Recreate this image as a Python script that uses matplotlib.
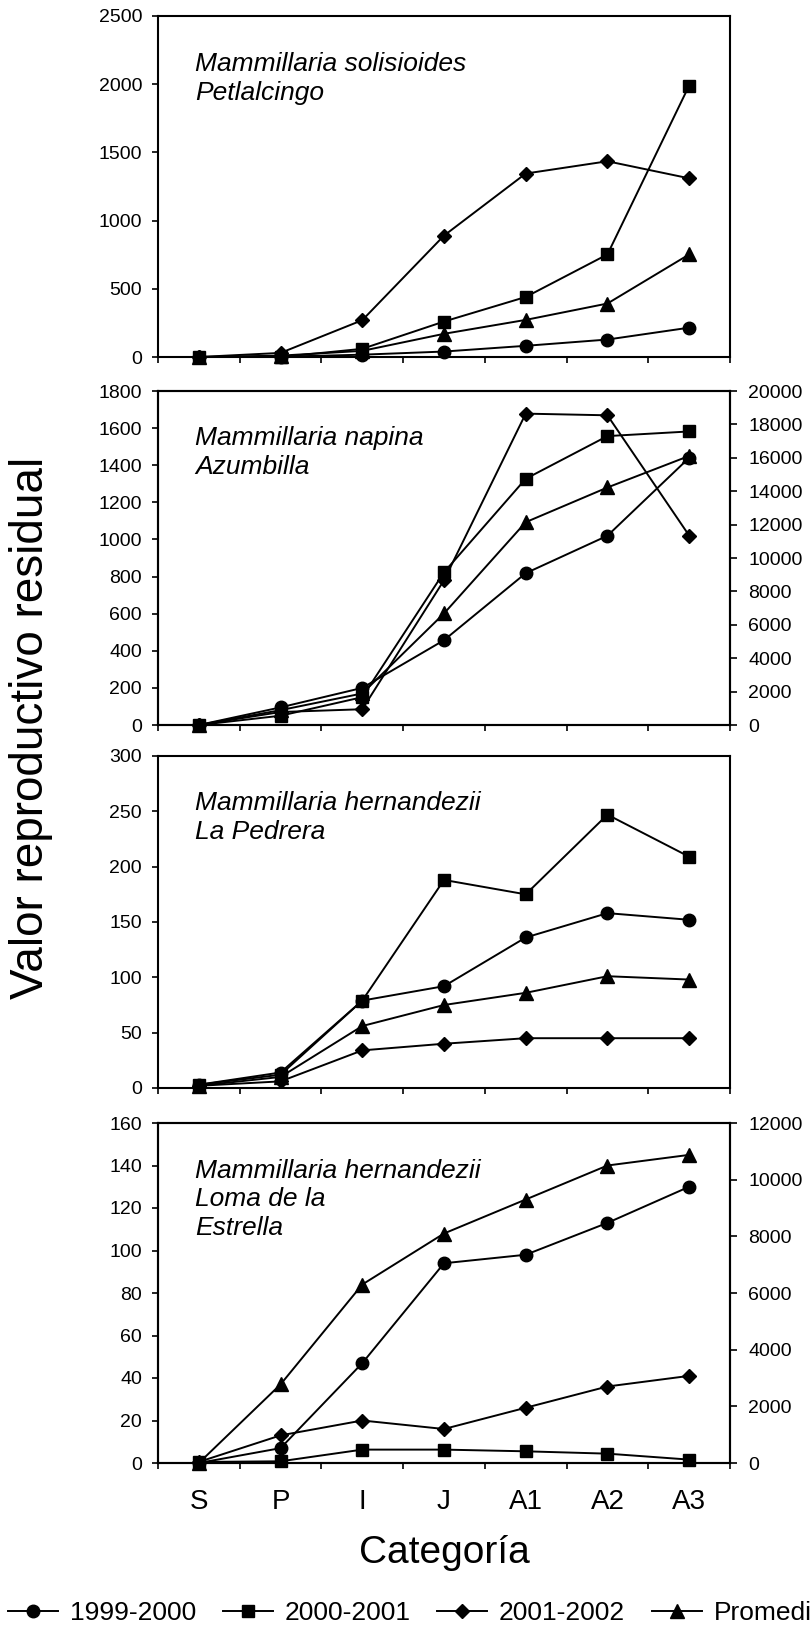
import numpy as np
import matplotlib
matplotlib.use("Agg")
import matplotlib.pyplot as plt
from matplotlib.lines import Line2D

plt.rcParams['font.family'] = ['Liberation Sans', 'DejaVu Sans']

cats = ['S', 'P', 'I', 'J', 'A1', 'A2', 'A3']
series_names = ['1999-2000', '2000-2001', '2001-2002', 'Promedio']
markers = ['o', 's', 'D', '^']
msizes = [9, 8.5, 7.5, 9.5]

# Mammillaria solisioides - Petlalcingo
sol_1999 = [0, 2, 17, 40, 82, 128, 215]
sol_2000 = [0, 0, 60, 260, 440, 752, 1990]
sol_2001 = [0, 30, 270, 890, 1345, 1435, 1310]
sol_prom = [0, 10, 45, 170, 272, 392, 752]

# Mammillaria napina - Azumbilla
nap_1999 = [0, 95, 200, 457, 818, 1020, 1440]
nap_2000 = [0, 50, 150, 823, 1327, 1557, 1582]
nap_2001 = [0, 70, 85, 780, 1678, 1669, 1021]
nap_prom = [0, 80, 170, 601, 1093, 1280, 1450]

# Mammillaria hernandezii - La Pedrera
ped_1999 = [3, 14, 79, 92, 136, 158, 152]
ped_2000 = [3, 12, 79, 188, 175, 247, 209]
ped_2001 = [2, 6, 34, 40, 45, 45, 45]
ped_prom = [2, 10, 56, 75, 86, 101, 98]

# Mammillaria hernandezii - Loma de la Estrella
lom_1999 = [0, 7, 47, 94, 98, 113, 130]
lom_2000 = [0.5, 0.8, 6.3, 6.3, 5.5, 4.4, 1.6]
lom_2001 = [0.5, 13, 20, 16, 26, 36, 41]
lom_prom = [0, 37, 84, 108, 124, 140, 145]

panels = [
    ("Mammillaria solisioides\nPetlalcingo", [sol_1999, sol_2000, sol_2001, sol_prom], 2500, 500, None),
    ("Mammillaria napina\nAzumbilla", [nap_1999, nap_2000, nap_2001, nap_prom], 1800, 200, (20000, 2000)),
    ("Mammillaria hernandezii\nLa Pedrera", [ped_1999, ped_2000, ped_2001, ped_prom], 300, 50, None),
    ("Mammillaria hernandezii\nLoma de la\nEstrella", [lom_1999, lom_2000, lom_2001, lom_prom], 160, 20, (12000, 2000)),
]

# pixel boxes (top, bottom) in the 812x1629 figure
boxes = [(16, 357), (391, 725), (756, 1088), (1123, 1463)]
W, H = 812, 1629
left, right = 158, 730

fig = plt.figure(figsize=(8.12, 16.29), dpi=100)
x = np.arange(len(cats))

for i, (label, data, ymax, ystep, twin) in enumerate(panels):
    top, bot = boxes[i]
    ax = fig.add_axes([left / W, 1 - bot / H, (right - left) / W, (bot - top) / H])
    for vals, m, ms in zip(data, markers, msizes):
        ax.plot(x, vals, color='black', lw=1.4, marker=m, ms=ms,
                markerfacecolor='black', markeredgecolor='black', clip_on=False, zorder=3)
    ax.set_xlim(-0.5, 6.5)
    ax.set_ylim(0, ymax)
    ax.set_yticks(np.arange(0, ymax + 1, ystep))
    ax.tick_params(axis='y', direction='out', length=4.5, width=1.2, labelsize=14, pad=7)
    ax.set_xticks(np.arange(-0.5, 7, 1))
    ax.set_xticklabels([])
    ax.tick_params(axis='x', which='major', direction='out', length=4.5, width=1.2)
    if i == 3:
        ax.set_xticks(x, minor=True)
        ax.set_xticklabels(cats, minor=True)
        ax.tick_params(axis='x', which='minor', length=0, labelsize=20, pad=19)
    for sp in ax.spines.values():
        sp.set_linewidth(1.5)
    ax.text(0.065, 0.895, label, transform=ax.transAxes, fontsize=19,
            style='italic', va='top', ha='left', linespacing=1.25)
    if twin is not None:
        ax2 = ax.twinx()
        ax2.set_ylim(0, twin[0])
        ax2.set_yticks(np.arange(0, twin[0] + 1, twin[1]))
        ax2.tick_params(axis='y', direction='out', length=5, width=1.2, labelsize=14, pad=8)
        for sp in ax2.spines.values():
            sp.set_linewidth(1.5)

fig.text(43 / W, 1 - 728 / H, 'Valor reproductivo residual', rotation=90,
         rotation_mode='anchor', ha='center', va='baseline', fontsize=33)
fig.text(444 / W, 1 - 1563 / H, 'Categoría', ha='center', va='baseline', fontsize=28)

handles = [Line2D([0], [0], color='black', lw=1.4, marker=m, ms=ms,
                  markerfacecolor='black', markeredgecolor='black')
           for m, ms in zip(markers, msizes)]
fig.legend(handles, series_names, loc='center left', bbox_to_anchor=(8 / W, 1 - 1613 / H),
           ncol=4, frameon=False, fontsize=19, handlelength=1.9, handletextpad=0.45,
           columnspacing=1.0, borderpad=0, borderaxespad=0)

fig.savefig('out.png', dpi=100)
